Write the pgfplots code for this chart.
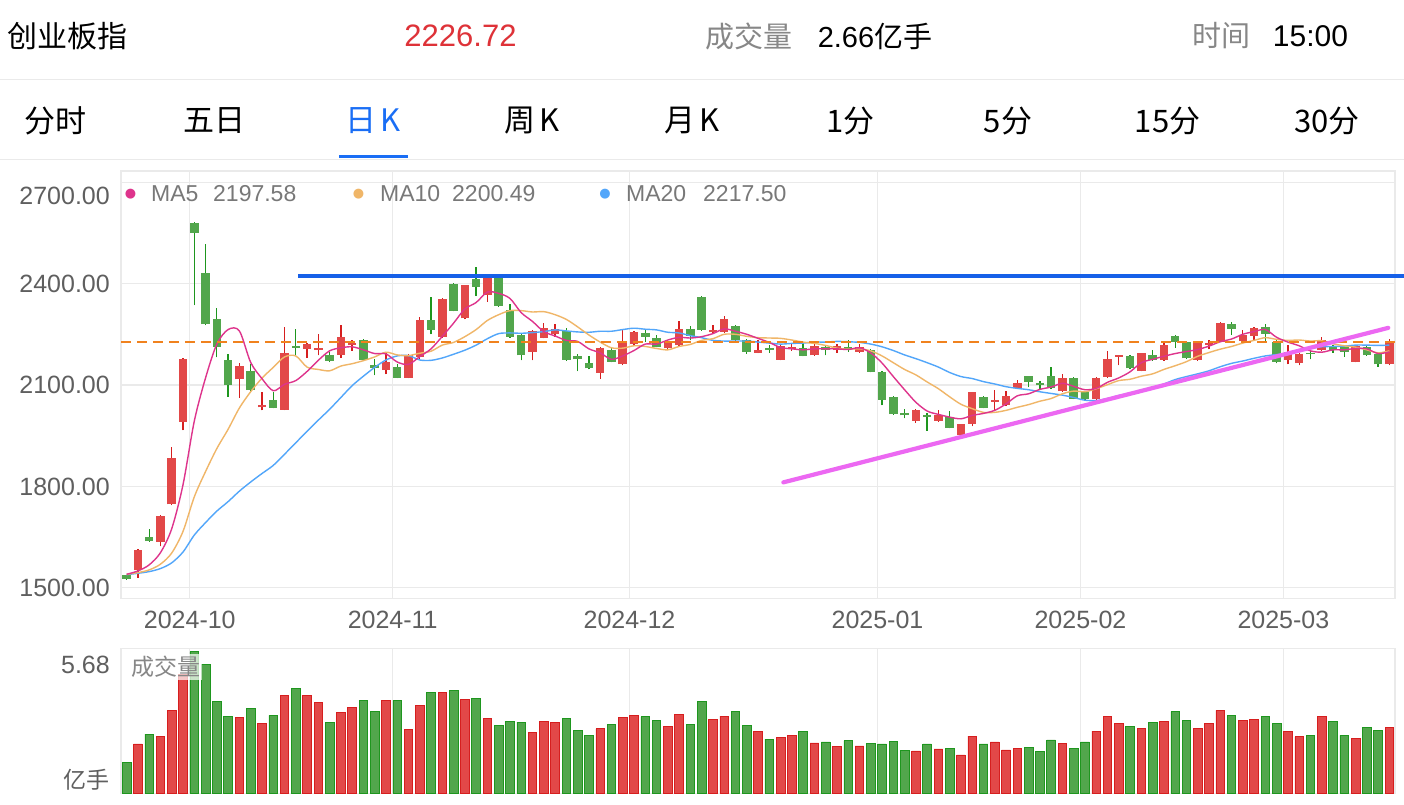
\documentclass[border=0pt]{standalone}
\usepackage{pgfplots}
\pgfplotsset{compat=1.18}
\usepackage{pgfplotstable}
\usepackage{fontspec}
\setmainfont{Liberation Sans}
\newfontfamily\cjk{Noto Sans CJK SC}
\newfontfamily\dejavu{DejaVu Sans}

\definecolor{upfill}{RGB}{226,72,72}
\definecolor{upline}{RGB}{214,30,30}
\definecolor{dnfill}{RGB}{82,166,76}
\definecolor{dnline}{RGB}{30,150,30}
\definecolor{ma5c}{RGB}{222,52,140}
\definecolor{ma10c}{RGB}{240,182,104}
\definecolor{ma20c}{RGB}{82,166,250}
\definecolor{gridc}{RGB}{234,234,234}
\definecolor{txtgray}{RGB}{120,120,120}
\definecolor{lblgray}{RGB}{95,95,95}
\definecolor{resblue}{RGB}{22,96,232}
\definecolor{trendpink}{RGB}{236,104,242}
\definecolor{dashorange}{RGB}{240,130,30}
\definecolor{pricered}{RGB}{222,50,56}
\definecolor{tabblue}{RGB}{26,110,245}
\definecolor{hdrgray}{RGB}{135,135,135}

\pgfplotstableread{
i O H L C V up
0 1537 1539 1524 1526 1.24 0
1 1552 1615 1530 1613 1.98 1
2 1651 1675 1636 1638 2.38 0
3 1636 1715 1623 1713 2.27 1
4 1747 1917 1745 1885 3.34 1
5 1991 2180 1966 2176 4.77 1
6 2580 2582 2336 2551 5.68 0
7 2430 2516 2277 2279 5.17 0
8 2294 2328 2182 2213 3.70 0
9 2175 2191 2065 2099 3.10 0
10 2117 2164 2062 2157 3.05 1
11 2141 2162 2083 2085 3.41 0
12 2034 2080 2025 2041 2.81 1
13 2057 2080 2031 2032 3.13 0
14 2027 2272 2026 2196 3.94 1
15 2216 2265 2188 2210 4.21 0
16 2206 2223 2180 2221 3.93 1
17 2203 2252 2188 2208 3.65 1
18 2190 2198 2168 2171 2.83 0
19 2190 2277 2181 2241 3.24 1
20 2218 2234 2201 2225 3.46 1
21 2232 2237 2173 2175 3.73 0
22 2158 2178 2129 2151 3.29 0
23 2144 2198 2132 2168 3.73 1
24 2153 2162 2120 2122 3.73 0
25 2122 2193 2120 2188 2.57 1
26 2183 2301 2178 2292 3.52 1
27 2292 2361 2250 2264 4.04 0
28 2243 2356 2240 2353 4.06 1
29 2400 2402 2318 2320 4.13 0
30 2297 2397 2295 2395 3.77 1
31 2415 2450 2363 2390 3.80 0
32 2366 2425 2346 2418 3.02 1
33 2418 2425 2331 2333 2.71 0
34 2321 2339 2240 2242 2.90 0
35 2247 2250 2173 2188 2.86 0
36 2198 2262 2173 2259 2.46 1
37 2240 2284 2238 2270 2.90 1
38 2252 2280 2242 2267 2.83 1
39 2259 2270 2172 2174 3.02 0
40 2186 2193 2141 2176 2.54 0
41 2165 2185 2147 2149 2.34 0
42 2136 2212 2119 2210 2.59 1
43 2205 2208 2167 2169 2.78 0
44 2161 2262 2159 2226 3.05 1
45 2221 2259 2219 2257 3.13 1
46 2254 2264 2228 2242 3.07 0
47 2238 2247 2212 2213 2.91 0
48 2208 2230 2206 2226 2.70 1
49 2218 2290 2216 2267 3.18 1
50 2267 2274 2232 2245 2.77 0
51 2361 2363 2260 2262 3.70 0
52 2256 2277 2250 2262 2.97 1
53 2257 2304 2255 2295 3.10 1
54 2275 2278 2231 2233 3.30 0
55 2232 2235 2193 2198 2.74 0
56 2195 2232 2194 2203 2.50 1
57 2210 2217 2195 2203 2.18 0
58 2175 2222 2173 2216 2.23 1
59 2206 2223 2201 2213 2.31 1
60 2208 2223 2185 2186 2.47 0
61 2188 2220 2186 2216 2.02 1
62 2213 2215 2188 2203 2.06 0
63 2203 2221 2196 2215 1.87 1
64 2211 2234 2198 2205 2.11 0
65 2198 2221 2196 2211 1.90 1
66 2203 2206 2137 2139 2.01 0
67 2139 2141 2040 2057 1.98 0
68 2065 2068 2012 2014 2.09 0
69 2018 2030 2001 2010 1.72 0
70 1994 2029 1988 2027 1.70 1
71 2012 2018 1964 2006 1.98 0
72 1994 2025 1992 2010 1.78 1
73 2004 2023 1972 1974 1.80 0
74 1951 1986 1949 1984 1.54 1
75 1986 2080 1978 2078 2.30 1
76 2065 2068 2031 2033 1.98 0
77 2050 2084 2027 2055 2.06 1
78 2040 2083 2038 2068 1.74 1
79 2090 2116 2089 2105 1.79 1
80 2126 2128 2093 2110 1.84 0
81 2106 2112 2084 2099 1.67 0
82 2126 2152 2088 2090 2.14 0
83 2082 2132 2080 2122 2.01 1
84 2121 2124 2058 2060 1.79 0
85 2080 2082 2056 2058 2.06 0
86 2058 2124 2056 2122 2.50 1
87 2124 2200 2122 2176 3.10 1
88 2183 2189 2159 2188 2.82 1
89 2186 2189 2147 2149 2.67 0
90 2142 2196 2140 2194 2.59 1
91 2189 2203 2172 2174 2.86 0
92 2174 2225 2172 2218 2.89 1
93 2245 2247 2210 2228 3.28 0
94 2226 2231 2177 2179 2.94 0
95 2174 2228 2172 2226 2.61 1
96 2218 2233 2206 2223 2.82 1
97 2228 2286 2226 2284 3.33 1
98 2280 2285 2248 2267 3.14 0
99 2231 2264 2229 2248 2.93 1
100 2246 2272 2233 2270 2.97 1
101 2272 2280 2228 2252 3.07 0
102 2228 2233 2164 2169 2.81 0
103 2174 2218 2162 2198 2.50 1
104 2165 2196 2158 2193 2.27 1
105 2195 2213 2176 2191 2.33 0
106 2203 2243 2200 2233 3.07 1
107 2215 2217 2195 2203 2.89 0
108 2213 2215 2183 2198 2.33 0
109 2169 2218 2167 2215 2.21 1
110 2211 2214 2186 2188 2.65 0
111 2193 2198 2154 2161 2.51 0
112 2161 2235 2159 2227 2.65 1
}\kdata

\pgfplotstableread{
i m5 m10 m20
0 1540 1540 1539
1 1550 1545 1543
2 1568 1553 1548
3 1604 1570 1557
4 1675 1603 1574
5 1805 1667 1606
6 1993 1769 1656
7 2121 1844 1693
8 2221 1912 1727
9 2264 1969 1755
10 2260 2032 1786
11 2167 2080 1813
12 2119 2120 1838
13 2083 2152 1862
14 2102 2183 1895
15 2113 2186 1929
16 2140 2153 1963
17 2173 2146 1996
18 2201 2142 2028
19 2210 2156 2063
20 2213 2163 2098
21 2204 2172 2126
22 2193 2183 2152
23 2192 2197 2174
24 2168 2189 2186
25 2161 2187 2187
26 2184 2194 2174
27 2207 2200 2173
28 2244 2218 2180
29 2283 2226 2191
30 2325 2243 2203
31 2344 2264 2218
32 2375 2291 2237
33 2371 2308 2252
34 2356 2320 2254
35 2314 2320 2253
36 2288 2316 2255
37 2258 2317 2258
38 2245 2308 2263
39 2232 2294 2260
40 2229 2272 2257
41 2207 2248 2256
42 2195 2227 2259
43 2176 2210 2259
44 2186 2209 2264
45 2202 2216 2268
46 2221 2214 2265
47 2221 2208 2263
48 2233 2204 2256
49 2241 2214 2254
50 2239 2220 2246
51 2243 2232 2240
52 2252 2237 2232
53 2266 2250 2230
54 2259 2250 2230
55 2250 2244 2230
56 2238 2240 2227
57 2226 2239 2224
58 2211 2238 2221
59 2207 2233 2223
60 2204 2227 2224
61 2207 2223 2227
62 2207 2217 2227
63 2207 2209 2229
64 2205 2206 2228
65 2210 2207 2226
66 2195 2201 2221
67 2165 2186 2213
68 2125 2166 2202
69 2086 2146 2189
70 2049 2130 2178
71 2023 2109 2166
72 2013 2089 2153
73 2005 2065 2137
74 2000 2043 2125
75 2010 2030 2119
76 2016 2019 2110
77 2025 2019 2103
78 2044 2025 2095
79 2068 2034 2090
80 2074 2042 2086
81 2087 2052 2080
82 2094 2060 2075
83 2105 2074 2070
84 2096 2082 2063
85 2086 2080 2055
86 2090 2089 2054
87 2108 2101 2060
88 2121 2113 2069
89 2139 2117 2076
90 2166 2126 2084
91 2176 2133 2093
92 2185 2146 2103
93 2193 2157 2116
94 2199 2169 2125
95 2205 2185 2133
96 2215 2196 2142
97 2228 2206 2154
98 2236 2214 2164
99 2250 2224 2171
100 2258 2232 2179
101 2264 2240 2186
102 2241 2235 2190
103 2227 2232 2194
104 2216 2233 2201
105 2201 2230 2208
106 2197 2231 2213
107 2204 2222 2214
108 2204 2216 2215
109 2208 2212 2218
110 2207 2204 2218
111 2193 2195 2217
112 2198 2201 2218
}\madata

\begin{document}
\begin{tikzpicture}[x=1pt,y=-1pt]
\path[use as bounding box, fill=white] (0,0) rectangle (1404,804);

% ---------- header ----------
\node[anchor=west, inner sep=0pt, font=\cjk\fontsize{30}{30}\selectfont] at (7,36) {创业板指};
\node[inner sep=0pt, text=pricered, font=\fontsize{31}{31}\selectfont] at (460.5,36) {2226.72};
\node[inner sep=0pt, text=hdrgray, font=\cjk\fontsize{29}{29}\selectfont] at (748.5,36) {成交量};
\node[inner sep=0pt, font=\fontsize{29}{29}\selectfont] at (875,36) {2.66{\cjk 亿手}};
\node[inner sep=0pt, text=hdrgray, font=\cjk\fontsize{29}{29}\selectfont] at (1221.5,36) {时间};
\node[inner sep=0pt, font=\fontsize{30}{30}\selectfont] at (1310.5,36) {15:00};
\draw[gridc, line width=1.5pt] (0,79.5) -- (1404,79.5);

% ---------- tabs ----------
\begin{scope}[every node/.style={inner sep=0pt, font=\cjk\fontsize{31}{31}\selectfont}]
\node at (55,121) {分时};
\node at (214,121) {五日};
\node[text=tabblue] at (373.5,121) {日\hspace{4pt}K};
\node at (532.5,121) {周\hspace{4pt}K};
\node at (692.5,121) {月\hspace{4pt}K};
\node at (850.5,121) {1分};
\node at (1008,121) {5分};
\node at (1167.5,121) {15分};
\node at (1327,121) {30分};
\end{scope}
\fill[tabblue] (339,154.5) rectangle (408,158);
\draw[gridc, line width=1.5pt] (0,159.5) -- (1404,159.5);

% ---------- main price axis ----------
\begin{axis}[
  at={(121pt,-598.3pt)}, anchor=south west, scale only axis,
  width=1274pt, height=427.3pt,
  xmin=-0.5, xmax=112.5, ymin=1469, ymax=2733,
  clip=false,
  axis line style={draw=gridc, line width=1.2pt},
  tick style={draw=none},
  xtick={5.6,23.6,44.6,66.6,84.6,102.6},
  xticklabels={2024-10,2024-11,2024-12,2025-01,2025-02,2025-03},
  xticklabel style={font=\fontsize{25}{25}\selectfont, text=lblgray, anchor=center, yshift=-21.7pt},
  ytick={1500,1800,2100,2400,2700},
  yticklabels={},
  grid=major, major grid style={draw=gridc, line width=1.2pt},
  candle/.style={only marks, mark=*, mark size=0pt, mark options={draw=none, fill=none}, forget plot},
]
% wicks
\addplot[candle, restrict expr to domain={\thisrow{up}}{0.5:1.5},
  error bars/.cd, y dir=plus, y explicit, error mark=none,
  error bar style={draw=upline, line width=1.3pt}]
  table[x=i, y=L, y error expr=\thisrow{H}-\thisrow{L}] {\kdata};
\addplot[candle, restrict expr to domain={\thisrow{up}}{-0.5:0.5},
  error bars/.cd, y dir=plus, y explicit, error mark=none,
  error bar style={draw=dnline, line width=1.3pt}]
  table[x=i, y=L, y error expr=\thisrow{H}-\thisrow{L}] {\kdata};
% bodies
\addplot[candle, restrict expr to domain={\thisrow{up}}{0.5:1.5},
  error bars/.cd, y dir=plus, y explicit, error mark=none,
  error bar style={draw=upfill, line width=8.5pt}]
  table[x=i, y=O, y error expr=\thisrow{C}-\thisrow{O}] {\kdata};
\addplot[candle, restrict expr to domain={\thisrow{up}}{-0.5:0.5},
  error bars/.cd, y dir=plus, y explicit, error mark=none,
  error bar style={draw=dnfill, line width=8.5pt}]
  table[x=i, y=C, y error expr=\thisrow{O}-\thisrow{C}] {\kdata};
% moving averages
\addplot[ma20c, line width=1.4pt, smooth, mark=none] table[x=i, y=m20] {\madata};
\addplot[ma10c, line width=1.4pt, smooth, mark=none] table[x=i, y=m10] {\madata};
\addplot[ma5c, line width=1.4pt, smooth, mark=none] table[x=i, y=m5] {\madata};
% reference lines
\addplot[dashorange, line width=1.8pt, dash pattern=on 10pt off 6pt, mark=none] coordinates {(-0.5,2226.7) (112.5,2226.7)};
\addplot[resblue, line width=3.6pt, mark=none] coordinates {(15.2,2422) (113.3,2422)};
\addplot[trendpink, line width=4.2pt, line cap=round, mark=none] coordinates {(58.25,1812) (111.9,2269)};
% y labels
\begin{scope}[every node/.style={anchor=east, inner sep=0pt, xshift=-11pt, text=lblgray, font=\fontsize{25}{25}\selectfont}]
\node at (axis cs:-0.5,2700) [yshift=-14pt] {2700.00};
\node at (axis cs:-0.5,2400) {2400.00};
\node at (axis cs:-0.5,2100) {2100.00};
\node at (axis cs:-0.5,1800) {1800.00};
\node at (axis cs:-0.5,1500) {1500.00};
\end{scope}
\end{axis}

% legend of moving averages
\begin{scope}[every node/.style={anchor=west, inner sep=0pt, text=txtgray, font=\fontsize{23}{23}\selectfont}]
\node[text=ma5c, font=\dejavu\fontsize{13}{13}\selectfont, anchor=center] at (130.5,194) {●};
\node at (151,194) {MA5};
\node at (213,194) {2197.58};
\node[text=ma10c, font=\dejavu\fontsize{13}{13}\selectfont, anchor=center] at (358.5,194) {●};
\node at (380,194) {MA10};
\node at (452,194) {2200.49};
\node[text=ma20c, font=\dejavu\fontsize{13}{13}\selectfont, anchor=center] at (605,194) {●};
\node at (626,194) {MA20};
\node at (703,194) {2217.50};
\end{scope}

% ---------- volume axis ----------
\begin{axis}[
  at={(121pt,-793.3pt)}, anchor=south west, scale only axis,
  width=1274pt, height=145pt,
  xmin=-0.5, xmax=112.5, ymin=0, ymax=5.82,
  axis line style={draw=gridc, line width=1.2pt},
  tick style={draw=none},
  xtick={5.6,23.6,44.6,66.6,84.6,102.6},
  xticklabels={},
  ytick=\empty,
  xmajorgrids, major grid style={draw=gridc, line width=1.2pt},
]
\addplot[ybar, bar width=8.6pt, bar shift=0pt, fill=upfill, draw=upline, line width=0.7pt,
  restrict expr to domain={\thisrow{up}}{0.5:1.5}] table[x=i, y=V] {\kdata};
\addplot[ybar, bar width=8.6pt, bar shift=0pt, fill=dnfill, draw=dnline, line width=0.7pt,
  restrict expr to domain={\thisrow{up}}{-0.5:0.5}] table[x=i, y=V] {\kdata};
\end{axis}

\node[anchor=west, inner sep=2pt, fill=white, fill opacity=0.7, text opacity=1, text=hdrgray,
  font=\cjk\fontsize{23}{23}\selectfont] at (129,667) {成交量};
\node[anchor=east, inner sep=0pt, text=lblgray, font=\fontsize{25}{25}\selectfont] at (110,665) {5.68};
\node[anchor=east, inner sep=0pt, text=lblgray, font=\cjk\fontsize{23}{23}\selectfont] at (110,780) {亿手};
\end{tikzpicture}
\end{document}
